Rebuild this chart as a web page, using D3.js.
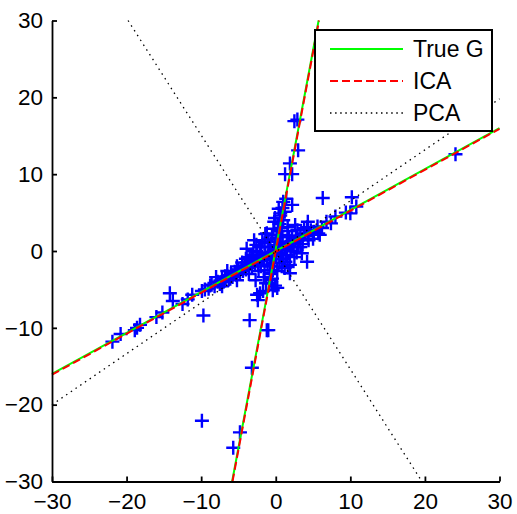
<!DOCTYPE html>
<html>
<head>
<meta charset="utf-8">
<script src="https://cdn.jsdelivr.net/npm/d3@7"></script>
<style>
  body { margin: 0; background: #fff; }
  text { font-family: "Liberation Sans", Arial, sans-serif; }
</style>
</head>
<body>
<div class="chartArea"></div>
<script>
let width = 517,
    height = 514

// axis ticks
const tickVals = [-30, -20, -10, 0, 10, 20, 30]

// mixed samples (x, y)
const pointsX = [
  2.5, 2.9, 3.0, 1.9, 1.25, 2.2, 1.0, 2.2, 6.3, 10.2, 10.0, 10.8, 9.4, 24.1,
  4.3, 5.9, 3.5, 4.2, 1.6, -2.1, -0.4, -5.2, -2.4, -0.1, -1.0,
  -21.9, -20.8, -18.9, -18.2, -18.6, -14.2, -13.8, -11.2, -9.9, -9.7, -8.8,
  -9.9, -5.7, -4.8, -3.2, -3.5, -2.5, -1.2, -1.7,
  -9.5, -9.0, -8.6, -8.2, -7.8, -7.5, -7.2, -6.9, -6.5, -6.3, -6.0, -5.8, -5.5,
  -5.3, -5.0, -4.8, -4.6, -4.4, -4.2, -4.0, -3.8, -3.6, -3.4, -3.2, -3.0, -2.8,
  -2.6, -2.4, -2.2, -2.0, -1.8, -1.6, -1.4, -1.2, -1.0, -0.8, -0.6, -0.4, -0.2,
  0.3, 0.6, 0.9, 1.2, 1.5, 1.8, 2.1, 2.4, 2.7, 3.0, 3.3, 3.6, 3.9, 4.3, 4.7,
  5.1, 5.6, 6.2, 6.8, 7.4, 8.0,
  -0.9, -0.5, -0.8, -0.4, -0.7, -0.2, -0.5, 0.0, -0.3, 0.2, -0.1, 0.4, 0.1,
  0.6, 0.3, 0.8, 0.5, 1.0, 0.6, 1.2, 0.9, 0.6, -0.1,
  -2.0, -1.5, -2.5, -3.0, 1.0, 1.5, 2.0, 0.5, -1.0, 2.5, -1.5, -3.5, 1.8, 3.0,
  -0.5, -2.0, -4.0, 1.2, 4.2, 5.7, 3.3, 1.9, -0.7, -2.1, -1.2, 1.6, 2.9,
  -6.8, -5.9, -11.8, -12.5, -16.0, -15.2, -7.0, -6.1,
  -1.8, -2.6, -3.2, -0.8, 0.7, 1.4, 2.3, 2.8, -1.1, -2.3, -3.6, -4.5, -5.2,
  0.9, 1.6, 2.2, -0.3, -1.4, 0.2, 0.8, 1.3, -0.6, -1.6, 3.6, 4.4, -6.5, -7.2,
  -8.0, -2.9, -0.2, 0.4, 1.4, 0.2, -1.3, 2.6, 3.8, -3.9, 1.9, -2.7, 5.0
]
const pointsY = [
  16.9, 17.1, 13.1, 11.4, 10.0, 10.0, 6.4, 6.0, 6.9, 7.0, 4.9, 5.8, 5.0, 12.6,
  3.8, 2.1, -0.3, -1.4, -2.1, -5.5, -5.1, -3.8, -6.4, -4.5, -10.3,
  -11.8, -10.8, -10.3, -9.6, -10.0, -5.5, -6.5, -5.7, -5.2, -8.4, -4.5,
  -22.1, -25.6, -23.6, -15.2, -9.0, -5.7, -10.3, -5.2,
  -5.0, -4.9, -4.4, -4.6, -4.0, -4.3, -3.6, -3.9, -3.3, -3.7, -3.0, -3.4, -2.7,
  -3.1, -2.4, -2.9, -2.2, -2.6, -1.9, -2.4, -1.8, -2.2, -1.5, -2.0, -1.3, -1.7,
  -1.2, -1.6, -0.9, -1.3, -0.7, -1.1, -0.5, -0.9, -0.3, -0.7, -0.1, -0.5, 0.1,
  0.4, 0.1, 0.7, 0.4, 1.0, 0.7, 1.3, 1.0, 1.7, 1.4, 2.0, 1.6, 2.3, 2.0, 2.7,
  2.5, 3.2, 3.0, 3.8, 3.6, 4.5,
  -4.2, -3.6, -3.0, -2.5, -2.0, -1.6, -1.1, -0.7, -0.3, 0.3, 0.8, 1.2, 1.7,
  2.1, 2.6, 3.0, 3.5, 4.0, 4.6, 5.1, 5.6, 4.9, 4.3,
  0.5, 1.0, -0.2, 0.0, -1.0, -0.5, 0.0, -1.5, 1.5, -0.8, -2.5, -0.8, 1.8, 0.5,
  2.0, -2.0, -1.0, -2.2, 3.1, 2.3, 0.5, -1.8, -2.9, 0.5, 2.3, 3.1, 2.7,
  -3.3, -3.2, -6.3, -6.9, -8.6, -8.0, -4.0, -3.6,
  1.2, 0.8, -0.5, 0.6, -0.4, 0.2, 0.6, -0.2, -1.8, -2.6, -3.0, -1.5, -2.0,
  1.8, 2.6, 2.0, 2.9, 2.2, -2.6, -2.0, -1.4, -3.8, -3.4, 0.9, 1.4, -2.6, -4.6,
  -3.4, 1.4, 3.8, 5.5, 6.8, -4.8, -4.2, 3.4, 3.0, 0.3, -2.9, -3.8, 1.6
]

// line end points [x0, y0, x1, y1]
const trueG = [[-5.85, -30, 5.75, 30], [-30, -16, 30, 16]]
const ica = [[-5.8, -30, 5.8, 30], [-30, -16.1, 30, 15.9]]
const pca = [[-30, -20, 30, 19.8], [-19.8, 30, 19.6, -30]]

const legendNames = ['True G', 'ICA', 'PCA']

const svg = d3.select('.chartArea')
    .append('svg')
    .attr('width', width)
    .attr('height', height)

const xScale = d3.scaleLinear().domain([-30, 30]).range([52, 499.5])
const yScale = d3.scaleLinear().domain([-30, 30]).range([481.5, 20.5])

// points as '+' markers
const pts = pointsX.map((x, i) => [x, pointsY[i]])
const arm = 7
const marks = svg.append('g')
    .attr('stroke', '#0000ff')
    .attr('stroke-width', 2.4)
    .selectAll('path')
    .data(pts)
    .enter()
    .append('path')
    .attr('d', d => {
      let cx = xScale(d[0]), cy = yScale(d[1])
      return `M${cx - arm},${cy}H${cx + arm}M${cx},${cy - arm}V${cy + arm}`
    })

// lines
function drawLines(data, color, widthPx, dash) {
  svg.append('g').selectAll('line')
      .data(data)
      .enter()
      .append('line')
      .attr('x1', d => xScale(d[0]))
      .attr('y1', d => yScale(d[1]))
      .attr('x2', d => xScale(d[2]))
      .attr('y2', d => yScale(d[3]))
      .attr('stroke', color)
      .attr('stroke-width', widthPx)
      .attr('stroke-dasharray', dash)
}
drawLines(trueG, '#00ff00', 2, null)
drawLines(ica, '#ff0000', 2, '8,4')
drawLines(pca, '#000', 1.3, '1.5,4.2')

// axes, ticks pointing inward
const xAxis = d3.axisBottom(xScale).tickValues(tickVals)
    .tickSizeInner(-5).tickSizeOuter(0).tickPadding(12)
const yAxis = d3.axisLeft(yScale).tickValues(tickVals)
    .tickSizeInner(-5).tickSizeOuter(0).tickPadding(9)

const gx = svg.append('g')
    .attr('transform', `translate(0, ${yScale(-30)})`)
    .call(xAxis)
const gy = svg.append('g')
    .attr('transform', `translate(${xScale(-30)}, 0)`)
    .call(yAxis)

for (const g of [gx, gy]) {
  g.selectAll('path, line').attr('stroke', '#000').attr('stroke-width', 1.8)
  g.selectAll('text')
      .attr('fill', '#000')
      .style('font-size', '22.5px')
      .style('font-family', '"Liberation Sans", Arial, sans-serif')
}

// legend
const legend = svg.append('g')
legend.append('rect')
    .attr('x', 315).attr('y', 30)
    .attr('width', 177).attr('height', 101)
    .attr('fill', '#fff')
    .attr('stroke', '#000')
    .attr('stroke-width', 2)

const legendStyle = [
  {color: '#00ff00', w: 2, dash: null},
  {color: '#ff0000', w: 2, dash: '8,4'},
  {color: '#000', w: 1.3, dash: '1.5,3.6'}
]
legendNames.forEach((name, i) => {
  let y = 49 + i * 32
  legend.append('line')
      .attr('x1', 330).attr('x2', 403)
      .attr('y1', y).attr('y2', y)
      .attr('stroke', legendStyle[i].color)
      .attr('stroke-width', legendStyle[i].w)
      .attr('stroke-dasharray', legendStyle[i].dash)
  legend.append('text')
      .attr('x', 413).attr('y', y + 8)
      .attr('fill', '#000')
      .style('font-size', '23px')
      .text(name)
})
</script>
</body>
</html>
